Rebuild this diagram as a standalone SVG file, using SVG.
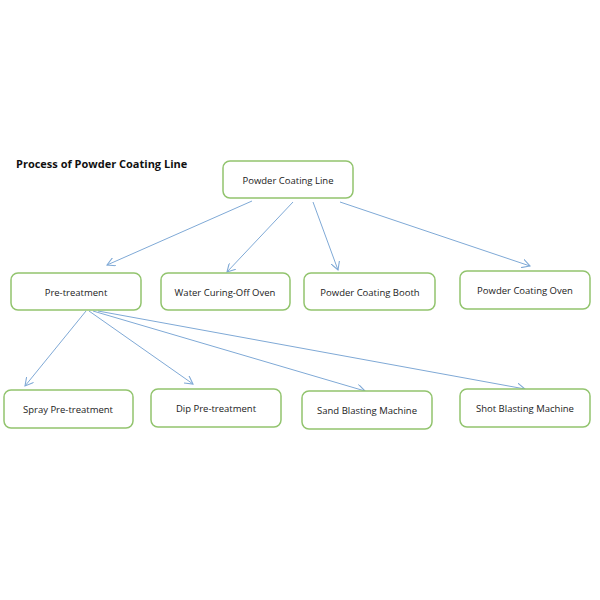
<svg xmlns="http://www.w3.org/2000/svg" width="600" height="600" viewBox="0 0 600 600">
<style>
.n rect{fill:#fff;stroke:#92c46e;stroke-width:1.5}
.n text{font-family:"Open Sans","DejaVu Sans",sans-serif;font-size:9.5px;fill:#222;text-anchor:middle}
.c line{stroke:#7fa9d6;stroke-width:1;marker-end:url(#a)}
</style>
<defs><marker id="a" viewBox="0 0 10 10" refX="9" refY="5" markerWidth="9" markerHeight="9" orient="auto" markerUnits="userSpaceOnUse"><path d="M0,0L9,5L0,10" fill="none" stroke="#7fa9d6" stroke-width="1.2"/></marker></defs>
<rect width="600" height="600" fill="#fff"/>
<text x="16" y="168" font-family="Open Sans,DejaVu Sans,sans-serif" font-size="11" font-weight="bold" fill="#111">Process of Powder Coating Line</text>
<g class="c">
<line x1="252" y1="201" x2="107" y2="265"/>
<line x1="293" y1="202" x2="227" y2="272"/>
<line x1="313" y1="202" x2="338" y2="270"/>
<line x1="340" y1="202" x2="530" y2="266"/>
<line x1="86" y1="311" x2="25" y2="386"/>
<line x1="89" y1="311" x2="193" y2="384"/>
<line x1="93" y1="311" x2="365" y2="391"/>
<line x1="98" y1="311" x2="525" y2="389"/>
</g>
<g class="n" id="top"><rect x="223" y="161" width="130" height="37" rx="7"/><text x="288" y="184">Powder Coating Line</text></g>
<g class="n" id="pre"><rect x="11" y="273" width="130" height="37" rx="7"/><text x="76" y="296">Pre-treatment</text></g>
<g class="n" id="water"><rect x="161" y="273" width="129" height="37" rx="7"/><text x="225" y="296">Water Curing-Off Oven</text></g>
<g class="n" id="booth"><rect x="304" y="273" width="131" height="37" rx="7"/><text x="370" y="296">Powder Coating Booth</text></g>
<g class="n" id="oven"><rect x="460" y="271" width="130" height="38" rx="7"/><text x="525" y="294">Powder Coating Oven</text></g>
<g class="n" id="spray"><rect x="4" y="390" width="129" height="38" rx="7"/><text x="68" y="413">Spray Pre-treatment</text></g>
<g class="n" id="dip"><rect x="151" y="389" width="130" height="38" rx="7"/><text x="216" y="412">Dip Pre-treatment</text></g>
<g class="n" id="sand"><rect x="302" y="391" width="130" height="38" rx="7"/><text x="367" y="414">Sand Blasting Machine</text></g>
<g class="n" id="shot"><rect x="460" y="389" width="130" height="38" rx="7"/><text x="525" y="412">Shot Blasting Machine</text></g>
</svg>
